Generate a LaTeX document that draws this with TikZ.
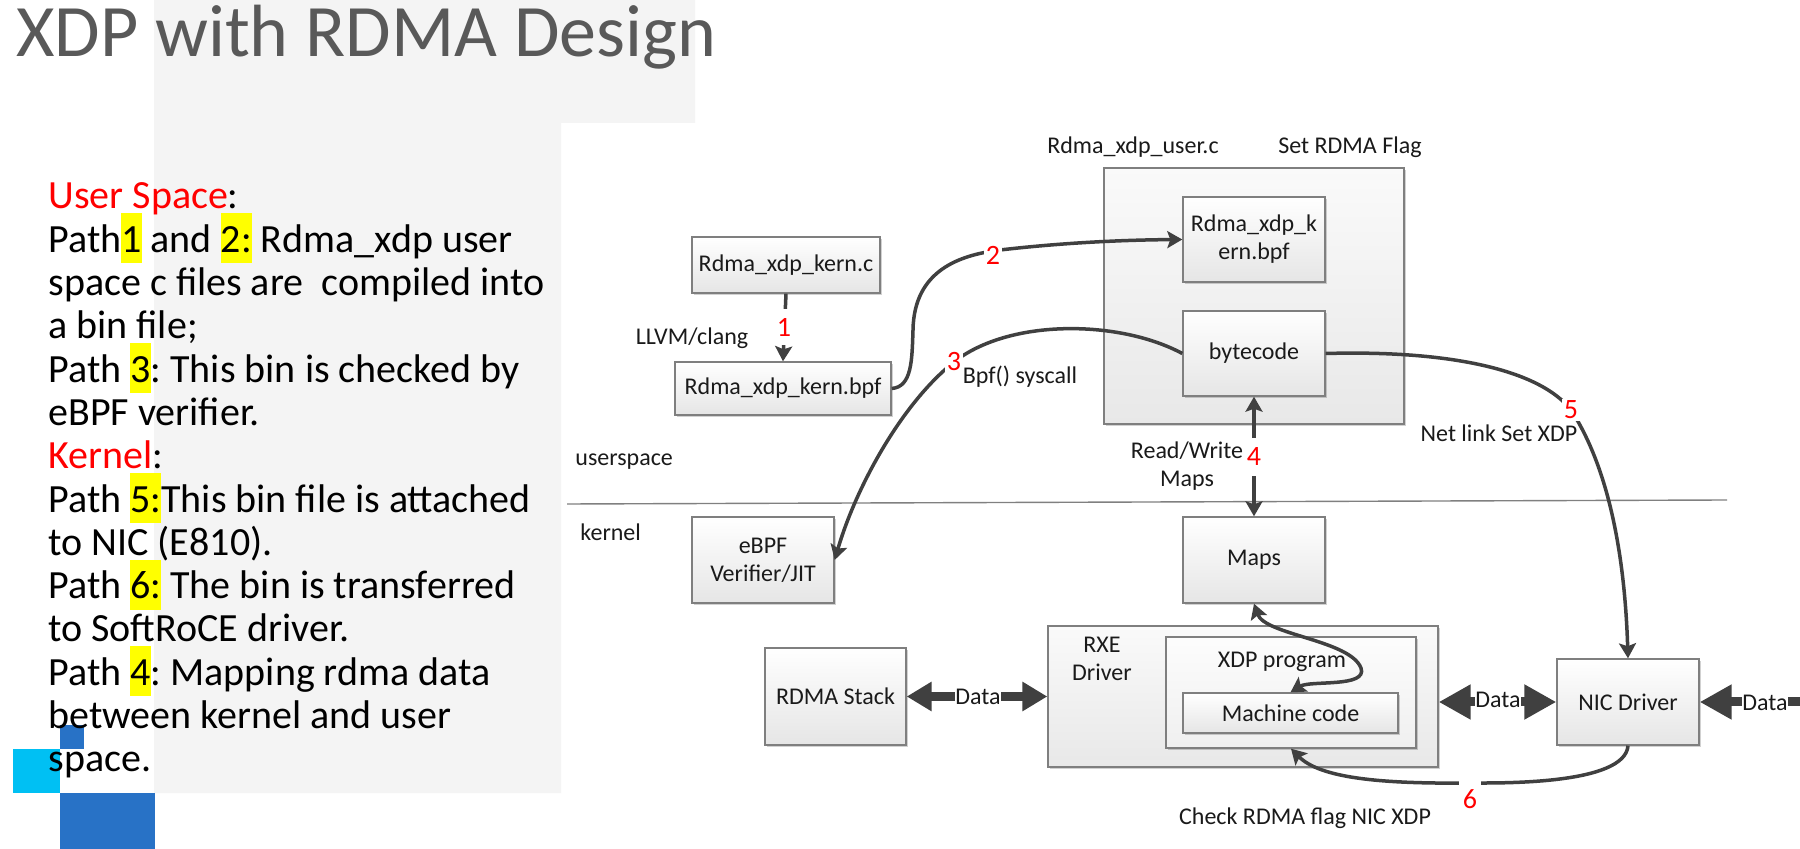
\documentclass[tikz,border=0pt]{standalone}
\usepackage{fontspec}
\setmainfont{Carlito}
\usetikzlibrary{arrows.meta,shadows}
\definecolor{panel}{HTML}{F4F4F4}
\definecolor{titlegray}{HTML}{595959}
\definecolor{arrcol}{HTML}{404040}
\definecolor{boxborder}{HTML}{7F7F7F}
\definecolor{txt}{HTML}{1A1A1A}
\definecolor{cyanblk}{HTML}{00C0F3}
\definecolor{blueblk}{HTML}{2872C6}
\definecolor{hlyellow}{HTML}{FFFF00}
\definecolor{sepline}{HTML}{808080}
\newcommand{\hlx}[1]{{\setlength{\fboxsep}{0pt}\colorbox{hlyellow}{\rule[-0.28em]{0pt}{1.25em}#1}}}
\newcommand{\dfont}{\fontsize{12pt}{14pt}\selectfont}
\newcommand{\nfont}{\fontsize{14pt}{16pt}\selectfont}
\newcommand{\descfont}{\fontsize{20pt}{21.65pt}\selectfont\frenchspacing}
\tikzset{
  box/.style={draw=boxborder, line width=0.7pt, top color=white, bottom color=black!10,
    inner sep=0pt, font=\dfont, text=txt, align=center,
    drop shadow={shadow xshift=0.8pt, shadow yshift=-0.8pt, opacity=0.18, fill=black}},
  cont/.style={draw=boxborder, line width=0.7pt, top color=black!2, bottom color=black!9,
    inner sep=0pt,
    drop shadow={shadow xshift=0.8pt, shadow yshift=-0.8pt, opacity=0.18, fill=black}},
  arr/.style={draw=arrcol, line width=1.75pt, -{Stealth[length=7.5pt,width=8.5pt,inset=1.5pt]}},
  darr/.style={draw=arrcol, line width=1.75pt, {Stealth[length=7.5pt,width=8.5pt,inset=1.5pt]}-{Stealth[length=7.5pt,width=8.5pt,inset=1.5pt]}},
  dataarr/.style={draw=arrcol, line width=4.5pt, {Triangle[length=12.5pt,width=14pt]}-{Triangle[length=12.5pt,width=14pt]}},
  databig/.style={draw=arrcol, line width=4.5pt, {Triangle[length=16pt,width=16.5pt]}-{Triangle[length=16pt,width=16.5pt]}},
  dataone/.style={draw=arrcol, line width=4.5pt, -{Triangle[length=16pt,width=16.5pt]}},
  lbl/.style={font=\dfont, text=txt, inner sep=0pt, align=center},
  num/.style={font=\nfont, text=red, fill=white, inner sep=1pt},
  datalbl/.style={font=\dfont, text=txt, fill=white, inner sep=0.3pt},
  desc/.style={font=\descfont, anchor=base west, inner sep=0pt, text=black},
}
\begin{document}
\begin{tikzpicture}[x=0.5pt,y=-0.5pt]
\useasboundingbox (0,0) rectangle (1800,849);
\fill[white] (0,0) rectangle (1800,849);
% background panel
\fill[panel] (154,0) -- (695,0) -- (695,123) -- (561,123) -- (561,793) -- (154,793) -- cycle;
% decorative squares
\fill[cyanblk] (13,749) rectangle (60,793);
\fill[blueblk] (60,725) rectangle (84,749);
\fill[blueblk] (60,793) rectangle (155,849);
% title
\node[anchor=base west, inner sep=0pt, text=titlegray, font=\fontsize{37pt}{42pt}\selectfont] (title) at (16,57) {XDP with RDMA Design};
% description
\node[desc] (t0) at (48,209.0) {\textcolor{red}{User Space}:};
\node[desc] (t1) at (48,252.3) {Path\hlx{1} and \hlx{2:} Rdma\_xdp user};
\node[desc] (t2) at (48,295.6) {space c files are\ \ compiled into};
\node[desc] (t3) at (48,338.9) {a bin file;};
\node[desc] (t4) at (48,382.2) {Path \hlx{3}: This bin is checked by};
\node[desc] (t5) at (48,425.5) {eBPF verifier.};
\node[desc] (t6) at (48,468.8) {\textcolor{red}{Kernel}:};
\node[desc] (t7) at (48,512.1) {Path \hlx{5:}This bin file is attached};
\node[desc] (t8) at (48,555.4) {to NIC (E810).};
\node[desc] (t9) at (48,598.7) {Path \hlx{6:} The bin is transferred};
\node[desc] (t10) at (48,642.0) {to SoftRoCE driver.};
\node[desc] (t11) at (48,685.3) {Path \hlx{4}: Mapping rdma data};
\node[desc] (t12) at (48,728.6) {between kernel and user};
\node[desc] (t13) at (48,771.9) {space.};
% separator
\draw[sepline, line width=0.7pt] (567,504) -- (1727,500);
\node[lbl, anchor=west] (us) at (575,462) {userspace};
\node[lbl, anchor=west] (kn) at (580,532) {kernel};
% containers
\node[cont, minimum width=150pt, minimum height=128pt] (user) at (1254,296) {};
\node[cont, minimum width=195pt, minimum height=70.5pt] (rxe) at (1243,696.5) {};
\node[cont, minimum width=125pt, minimum height=55.5pt, top color=black!1, bottom color=black!6] (xdp) at (1291,692.5) {};
% boxes
\node[box, minimum width=94pt, minimum height=28pt] (kernc) at (786,265) {Rdma\_xdp\_kern.c};
\node[box, minimum width=108pt, minimum height=26.5pt] (kernbpf) at (783,388.5) {Rdma\_xdp\_kern.bpf};
\node[box, minimum width=71pt, minimum height=42.5pt] (ukbpf) at (1254,239.5) {Rdma\_xdp\_k\\ern.bpf};
\node[box, minimum width=71pt, minimum height=42.5pt] (bytecode) at (1254,353.5) {bytecode};
\node[box, minimum width=71pt, minimum height=43pt] (ebpf) at (763,560) {eBPF\\Verifier/JIT};
\node[box, minimum width=71pt, minimum height=43pt] (maps) at (1254,560) {Maps};
\node[box, minimum width=70.5pt, minimum height=48.5pt] (rdma) at (835.5,696.5) {RDMA Stack};
\node[box, minimum width=107.5pt, minimum height=20pt] (mc) at (1290.5,713) {Machine code};
\node[box, minimum width=71pt, minimum height=43pt] (nic) at (1628,702) {NIC Driver};
% container labels
\node[lbl] (userlbl) at (1133,147) {Rdma\_xdp\_user.c};
\node[lbl] (flaglbl) at (1350,147) {Set RDMA Flag};
\node[lbl] (rxelbl) at (1102,659) {RXE\\Driver};
\node[lbl] (xdplbl) at (1282,662) {XDP program};
% connectors
\draw[arr] (kernc.south) -- (kernbpf.north);
\node[num, minimum height=18pt] (n1) at (784,327) {1};
\node[lbl] (llvm) at (692,338) {LLVM/clang};
\draw[arr] (kernbpf.east) .. controls (912,387) and (912,360) .. (913,330)
  .. controls (914,270) and (960,255) .. (1000,250)
  .. controls (1060,243) and (1120,240) .. (ukbpf.west);
\node[num] (n2) at (993,255) {2};
\draw[arr] (bytecode.west) .. controls (1120,320) and (1010,318) .. (954,362)
  .. controls (900,405) and (855,490) .. (ebpf.east);
\node[num] (n3) at (954,362) {3};
\node[lbl] (bpfsys) at (1020,377) {Bpf() syscall};
\draw[darr] (bytecode.south) -- (maps.north);
\node[num, minimum height=19pt] (n4) at (1254,457) {4};
\node[lbl] (rw) at (1187,466) {Read/Write\\Maps};
\draw[arr] (bytecode.east) .. controls (1450,350) and (1540,370) .. (1571,410)
  .. controls (1610,470) and (1625,560) .. (nic.north);
\node[num] (n5) at (1571,410) {5};
\node[lbl] (netlink) at (1499,433) {Net link Set XDP};
\draw[darr] (maps.south) .. controls (1265,635) and (1350,640) .. (1361,668)
  .. controls (1368,688) and (1310,680) .. (mc.north);
\draw[arr] (nic.south) .. controls (1625,785) and (1500,783) .. (1470,783)
  .. controls (1380,784) and (1320,778) .. (xdp.south);
\node[num, minimum height=20pt, inner xsep=2pt] (n6) at (1470,799) {6};
\node[lbl] (check) at (1305,818) {Check RDMA flag NIC XDP};
% data arrows
\draw[dataarr] (rdma.east) -- (rxe.west);
\node[datalbl] (d1) at (978,697) {Data};
\draw[databig] (rxe.east |- nic.west) -- (nic.west);
\node[datalbl] (d2) at (1498,700) {Data};
\coordinate (redge) at (1800,702);
\draw[dataone] (redge) -- (nic.east);
\node[datalbl] (d3) at (1765,703) {Data};
\end{tikzpicture}
\end{document}
